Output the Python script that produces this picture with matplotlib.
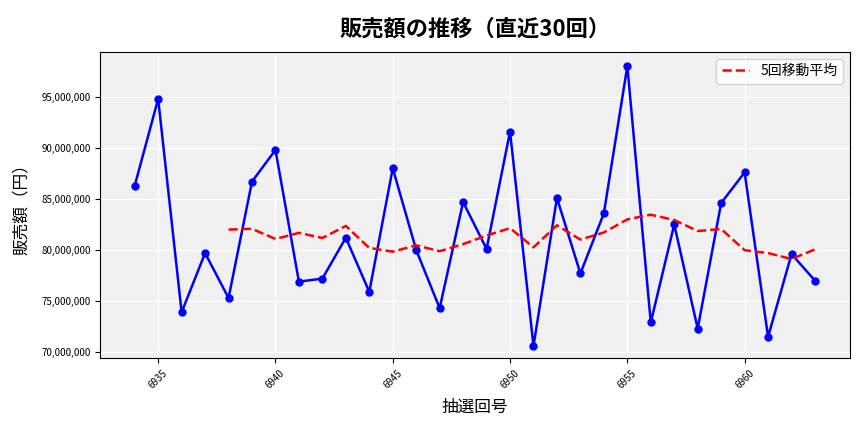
import matplotlib
matplotlib.use("Agg")
import matplotlib.pyplot as plt
import matplotlib.ticker as mticker
import pandas as pd

plt.rcParams['font.family'] = ['Noto Sans CJK JP', 'DejaVu Sans']

draws = list(range(6934, 6964))
sales = [86.3, 94.8, 73.9, 79.7, 75.3, 86.7, 89.8, 76.9, 77.2, 81.2,
         75.9, 88.0, 80.0, 74.3, 84.7, 80.1, 91.6, 70.6, 85.1, 77.7,
         83.6, 98.0, 72.9, 82.5, 72.3, 84.6, 87.6, 71.5, 79.6, 77.0]
sales = [v * 1e6 for v in sales]
ma = pd.Series(sales).rolling(5).mean()

fig, ax = plt.subplots(figsize=(8.64, 4.32), dpi=100)
fig.subplots_adjust(left=0.116, right=0.984, top=0.88, bottom=0.171)
ax.set_facecolor('#f0f0f0')
ax.grid(True, color='white', linewidth=1)
ax.set_axisbelow(True)
ax.plot(draws, sales, color='blue', marker='o', markersize=5, linewidth=1.8)
ax.plot(draws, ma, color='red', linestyle='--', linewidth=1.8, label='5回移動平均')
ax.yaxis.set_major_formatter(mticker.FuncFormatter(lambda v, p: f'{int(v):,}'))
ax.xaxis.set_major_locator(mticker.MultipleLocator(5))
ax.tick_params(axis='x', labelrotation=45, labelsize=7)
ax.tick_params(axis='y', labelsize=7)
ax.set_xlim(6932.53, 6964.5)
ax.set_ylim(69.41e6, 99.41e6)
ax.set_title('販売額の推移（直近30回）', fontsize=16, fontweight='bold', pad=12)
ax.set_xlabel('抽選回号', fontsize=12, labelpad=6)
ax.set_ylabel('販売額（円）', fontsize=12, labelpad=8)
ax.legend(loc='upper right', fontsize=10)
fig.savefig('out.png')
